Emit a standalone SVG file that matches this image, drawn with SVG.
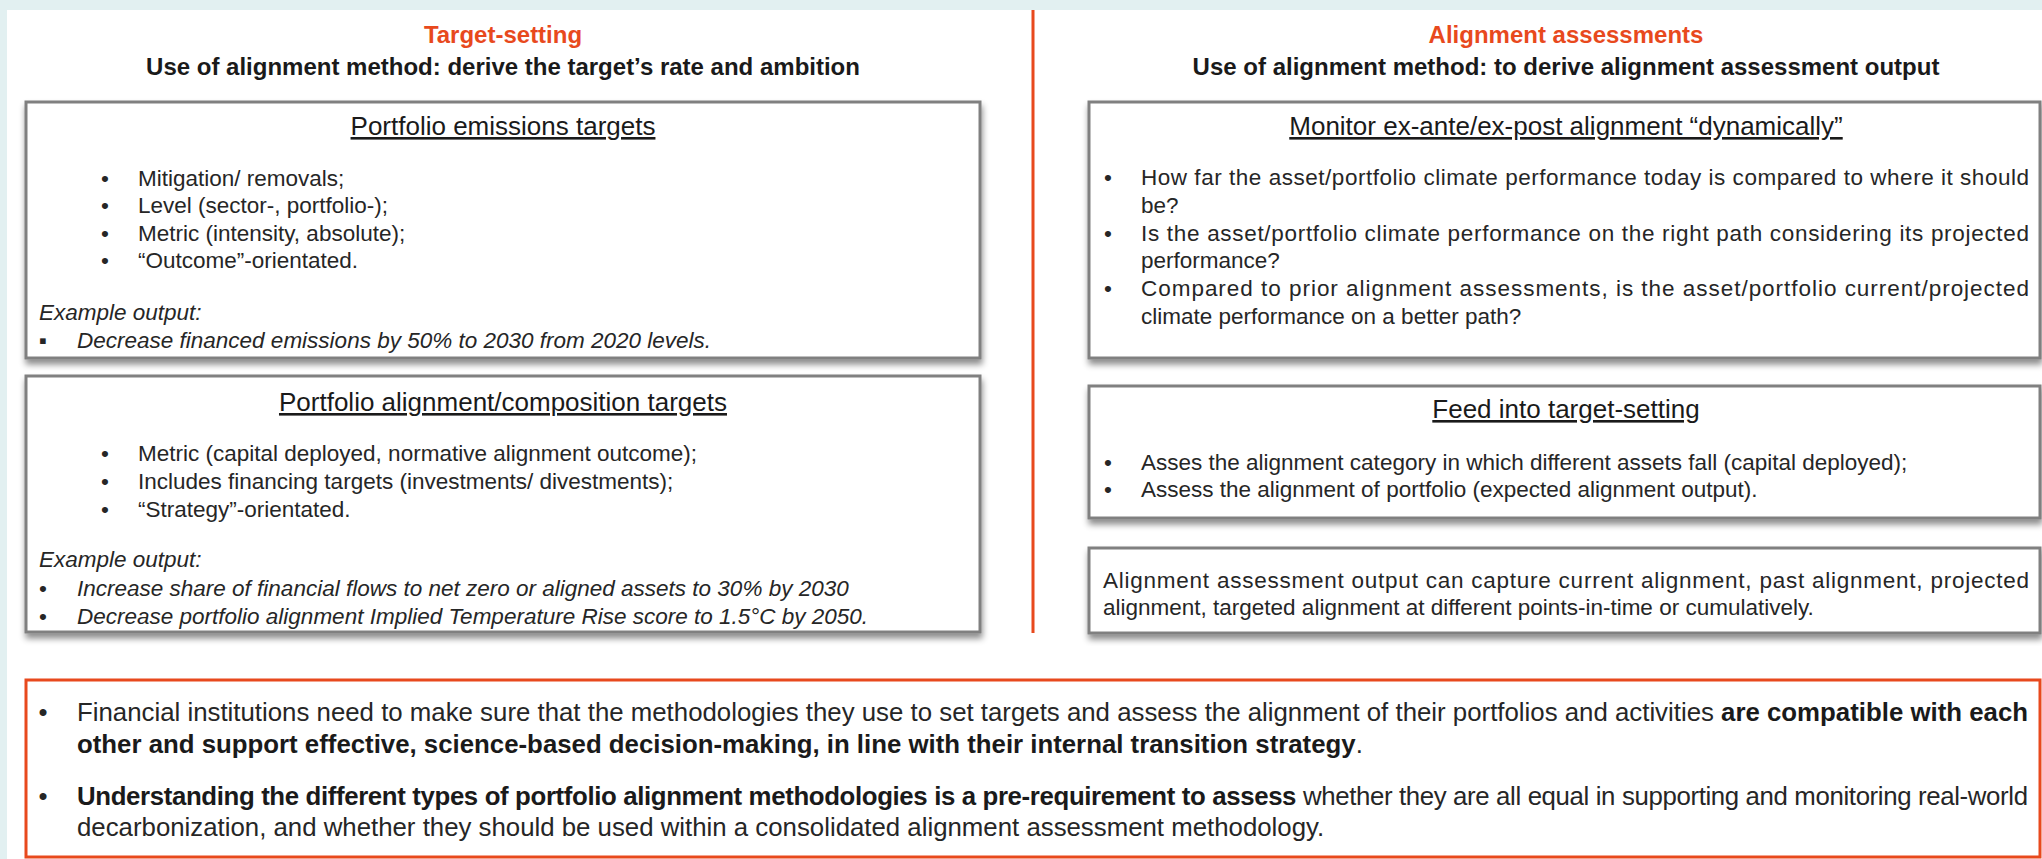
<svg xmlns="http://www.w3.org/2000/svg" width="2042" height="859" viewBox="0 0 2042 859">
<defs>
<filter id="sh" x="-5%" y="-10%" width="110%" height="125%">
<feDropShadow dx="1" dy="5" stdDeviation="3" flood-color="#000" flood-opacity="0.45"/>
</filter>
<style>
text{font-family:"Liberation Sans",Arial,sans-serif;fill:#262626}
.title{font-size:24px;font-weight:bold;fill:#E8491D}
.sub{font-size:24px;font-weight:bold;fill:#1a1a1a}
.box{fill:#fff;stroke:#808080;stroke-width:3}
.hd{font-size:26px;text-decoration:underline;fill:#1a1a1a}
.b{font-size:22.5px}
.bi{font-size:22.5px;font-style:italic}
.ft{font-size:25.8px}
.bold{font-weight:bold;fill:#1a1a1a}
.mid{text-anchor:middle}
</style>
</defs>
<rect x="0" y="0" width="2042" height="859" fill="#e2f0f1"/>
<rect x="7" y="10" width="2035" height="849" fill="#ffffff"/>

<g id="header-left">
<text class="title mid" x="503" y="43">Target-setting</text>
<text class="sub mid" x="503" y="75">Use of alignment method: derive the target’s rate and ambition</text>
</g>
<g id="header-right">
<text class="title mid" x="1566" y="43">Alignment assessments</text>
<text class="sub mid" x="1566" y="75">Use of alignment method: to derive alignment assessment output</text>
</g>

<g id="connectors">
<line x1="1033" y1="10" x2="1033" y2="633" stroke="#E8491D" stroke-width="3"/>
</g>

<g id="portfolio-emissions-targets">
<rect class="box" x="26" y="102" width="954" height="256" filter="url(#sh)"/>
<text class="hd mid" x="503" y="135">Portfolio emissions targets</text>
<text class="b mid" x="105" y="186">•</text><text class="b" x="138" y="186">Mitigation/ removals;</text>
<text class="b mid" x="105" y="213">•</text><text class="b" x="138" y="213">Level (sector-, portfolio-);</text>
<text class="b mid" x="105" y="241">•</text><text class="b" x="138" y="241">Metric (intensity, absolute);</text>
<text class="b mid" x="105" y="268">•</text><text class="b" x="138" y="268">“Outcome”-orientated.</text>
<text class="bi" x="39" y="320">Example output:</text>
<text class="b mid" x="43" y="348">▪</text><text class="bi" x="77" y="348">Decrease financed emissions by 50% to 2030 from 2020 levels.</text>
</g>

<g id="portfolio-alignment-targets">
<rect class="box" x="26" y="376" width="954" height="256" filter="url(#sh)"/>
<text class="hd mid" x="503" y="411">Portfolio alignment/composition targets</text>
<text class="b mid" x="105" y="461">•</text><text class="b" x="138" y="461">Metric (capital deployed, normative alignment outcome);</text>
<text class="b mid" x="105" y="489">•</text><text class="b" x="138" y="489">Includes financing targets (investments/ divestments);</text>
<text class="b mid" x="105" y="517">•</text><text class="b" x="138" y="517">“Strategy”-orientated.</text>
<text class="bi" x="39" y="567">Example output:</text>
<text class="b mid" x="43" y="596">•</text><text class="bi" x="77" y="596">Increase share of financial flows to net zero or aligned assets to 30% by 2030</text>
<text class="b mid" x="43" y="624">•</text><text class="bi" x="77" y="624">Decrease portfolio alignment Implied Temperature Rise score to 1.5°C by 2050.</text>
</g>

<g id="monitor-alignment">
<rect class="box" x="1089" y="102" width="951" height="256" filter="url(#sh)"/>
<text class="hd mid" x="1566" y="135">Monitor ex-ante/ex-post alignment “dynamically”</text>
<text class="b mid" x="1108" y="185">•</text><text class="b" x="1141" y="185" textLength="888" lengthAdjust="spacing">How far the asset/portfolio climate performance today is compared to where it should</text>
<text class="b" x="1141" y="213">be?</text>
<text class="b mid" x="1108" y="241">•</text><text class="b" x="1141" y="241" textLength="888" lengthAdjust="spacing">Is the asset/portfolio climate performance on the right path considering its projected</text>
<text class="b" x="1141" y="268">performance?</text>
<text class="b mid" x="1108" y="296">•</text><text class="b" x="1141" y="296" textLength="888" lengthAdjust="spacing">Compared to prior alignment assessments, is the asset/portfolio current/projected</text>
<text class="b" x="1141" y="324">climate performance on a better path?</text>
</g>

<g id="feed-into-target-setting">
<rect class="box" x="1089" y="386" width="951" height="132" filter="url(#sh)"/>
<text class="hd mid" x="1566" y="418">Feed into target-setting</text>
<text class="b mid" x="1108" y="470">•</text><text class="b" x="1141" y="470">Asses the alignment category in which different assets fall (capital deployed);</text>
<text class="b mid" x="1108" y="497">•</text><text class="b" x="1141" y="497">Assess the alignment of portfolio (expected alignment output).</text>
</g>

<g id="assessment-output">
<rect class="box" x="1089" y="548" width="951" height="85" filter="url(#sh)"/>
<text class="b" x="1103" y="588" textLength="926" lengthAdjust="spacing">Alignment assessment output can capture current alignment, past alignment, projected</text>
<text class="b" x="1103" y="615">alignment, targeted alignment at different points-in-time or cumulatively.</text>
</g>

<g id="key-messages">
<rect x="26" y="680" width="2014" height="177" fill="#fff" stroke="#E8491D" stroke-width="3"/>
<text class="ft mid" x="43" y="721">•</text>
<text class="ft" x="77" y="721" textLength="1951" lengthAdjust="spacing">Financial institutions need to make sure that the methodologies they use to set targets and assess the alignment of their portfolios and activities <tspan class="bold">are compatible with each</tspan></text>
<text class="ft" x="77" y="753"><tspan class="bold">other and support effective, science-based decision-making, in line with their internal transition strategy</tspan>.</text>
<text class="ft mid" x="43" y="805">•</text>
<text class="ft" x="77" y="805" textLength="1951" lengthAdjust="spacing"><tspan class="bold">Understanding the different types of portfolio alignment methodologies is a pre-requirement to assess</tspan> whether they are all equal in supporting and monitoring real-world</text>
<text class="ft" x="77" y="836">decarbonization, and whether they should be used within a consolidated alignment assessment methodology.</text>
</g>
</svg>
